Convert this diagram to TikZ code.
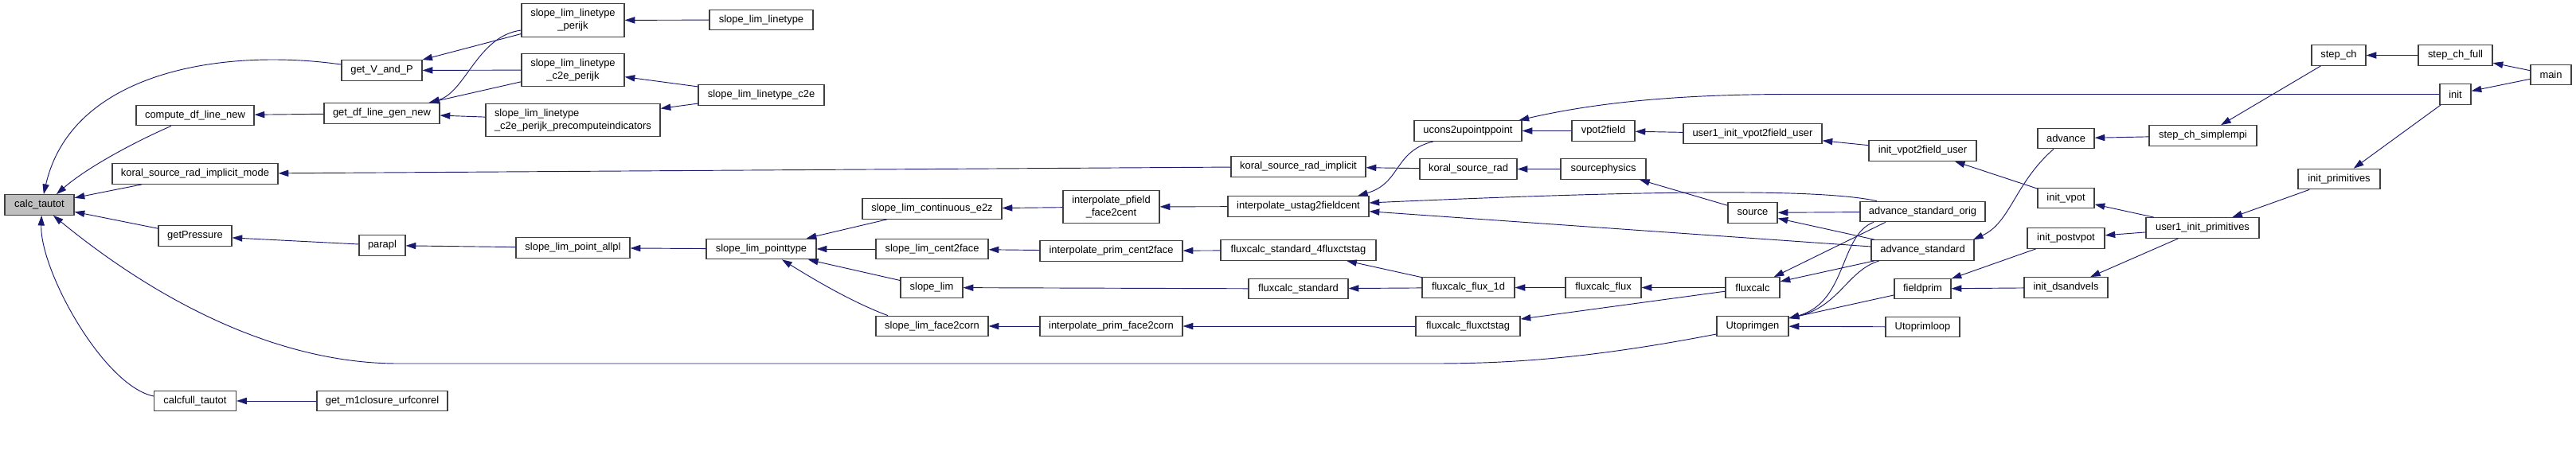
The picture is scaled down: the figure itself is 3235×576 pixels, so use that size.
\documentclass[tikz,border=0pt]{standalone}
\usepackage{fontspec}
\setmainfont{Liberation Sans}
\usetikzlibrary{arrows.meta}
\definecolor{edgec}{HTML}{191970}
\definecolor{nodeb}{HTML}{404040}
\definecolor{rootf}{HTML}{BFBFBF}
\begin{document}
\begin{tikzpicture}[x=0.75pt,y=-0.75pt,
  fn/.style={draw=nodeb, line width=0.9pt, fill=white, inner sep=0pt,
    minimum height=25.5*0.75pt, font=\fontsize{9.7}{11.8}\selectfont, align=center},
  sz/.style={minimum width=#1*0.75pt},
  tall/.style={minimum height=41.5*0.75pt},
  e/.style={draw=edgec, line width=0.7pt, -{Triangle[length=9.5pt,width=6.2pt]}}]
\useasboundingbox (0,0) rectangle (3235,576);
% nodes
\node[fn,sz=87,fill=rootf] (calc) at (49.5,257.5) {calc\_tautot};
\node[fn,sz=148] (cdln) at (245,145) {compute\_df\_line\_new};
\node[fn,sz=208] (kmode) at (245,218.5) {koral\_source\_rad\_implicit\_mode};
\node[fn,sz=92] (getP) at (245,296.5) {getPressure};
\node[fn,sz=103] (cft) at (245,504) {calcfull\_tautot};
\node[fn,sz=101] (gvp) at (479.5,88.5) {get\_V\_and\_P};
\node[fn,sz=145] (gdf) at (479.5,142.5) {get\_df\_line\_gen\_new};
\node[fn,sz=58] (parapl) at (480,308.5) {parapl};
\node[fn,sz=164] (m1) at (480,504) {get\_m1closure\_urfconrel};
\node[fn,sz=129,tall] (perijk) at (719.5,25.5) {slope\_lim\_linetype\\\_perijk};
\node[fn,sz=129,tall] (c2ep) at (719.5,88) {slope\_lim\_linetype\\\_c2e\_perijk};
\node[fn,sz=219,tall,align=left] (pre) at (719.5,151) {slope\_lim\_linetype\\\_c2e\_perijk\_precomputeindicators};
\node[fn,sz=143] (allpl) at (719.5,311.5) {slope\_lim\_point\_allpl};
\node[fn,sz=130] (slt) at (956,25) {slope\_lim\_linetype};
\node[fn,sz=158] (c2e) at (956,119.5) {slope\_lim\_linetype\_c2e};
\node[fn,sz=138] (pt) at (956,313) {slope\_lim\_pointtype};
\node[fn,sz=175] (e2z) at (1170.5,262.5) {slope\_lim\_continuous\_e2z};
\node[fn,sz=141] (c2f) at (1170.5,313) {slope\_lim\_cent2face};
\node[fn,sz=78] (sl) at (1170,361.5) {slope\_lim};
\node[fn,sz=141] (f2c) at (1170.5,410) {slope\_lim\_face2corn};
\node[fn,sz=121,tall] (ipf) at (1395.5,260) {interpolate\_pfield\\\_face2cent};
\node[fn,sz=179] (ipc) at (1395.5,315.5) {interpolate\_prim\_cent2face};
\node[fn,sz=179] (ipfc) at (1395.5,410) {interpolate\_prim\_face2corn};
\node[fn,sz=169] (ksri) at (1630.5,209.5) {koral\_source\_rad\_implicit};
\node[fn,sz=177] (ustag) at (1630.5,259.5) {interpolate\_ustag2fieldcent};
\node[fn,sz=195] (fs4) at (1630.5,314.5) {fluxcalc\_standard\_4fluxctstag};
\node[fn,sz=125] (fs) at (1630.5,363) {fluxcalc\_standard};
\node[fn,sz=135] (ucons) at (1843.5,164.5) {ucons2upointppoint};
\node[fn,sz=122] (ksr) at (1844,212.5) {koral\_source\_rad};
\node[fn,sz=116] (f1d) at (1844,361.5) {fluxcalc\_flux\_1d};
\node[fn,sz=131] (fct) at (1843.5,410) {fluxcalc\_fluxctstag};
\node[fn,sz=79] (vpot2) at (2013.5,164.5) {vpot2field};
\node[fn,sz=107] (sphys) at (2013.5,212.5) {sourcephysics};
\node[fn,sz=95] (ffl) at (2013.5,361.5) {fluxcalc\_flux};
\node[fn,sz=174] (u1v) at (2201,168) {user1\_init\_vpot2field\_user};
\node[fn,sz=62] (src) at (2201,267.5) {source};
\node[fn,sz=68] (fc) at (2201,361.5) {fluxcalc};
\node[fn,sz=90] (utg) at (2201,410) {Utoprimgen};
\node[fn,sz=135] (ivu) at (2414.5,189.5) {init\_vpot2field\_user};
\node[fn,sz=157] (aso) at (2414.5,266) {advance\_standard\_orig};
\node[fn,sz=129] (as) at (2414.5,314.5) {advance\_standard};
\node[fn,sz=71] (fp) at (2414.5,363) {fieldprim};
\node[fn,sz=93] (utl) at (2414.5,411) {Utoprimloop};
\node[fn,sz=71] (adv) at (2594.5,174) {advance};
\node[fn,sz=71] (iv) at (2594.5,249) {init\_vpot};
\node[fn,sz=97] (ipv) at (2594.5,299.5) {init\_postvpot};
\node[fn,sz=105] (ids) at (2594.5,361.5) {init\_dsandvels};
\node[fn,sz=135] (scs) at (2766.5,170.5) {step\_ch\_simplempi};
\node[fn,sz=142] (u1p) at (2766,286.5) {user1\_init\_primitives};
\node[fn,sz=68] (sc) at (2937,69.5) {step\_ch};
\node[fn,sz=103] (ip) at (2937.5,225) {init\_primitives};
\node[fn,sz=93] (scf) at (3083.5,69.5) {step\_ch\_full};
\node[fn,sz=39] (init) at (3083.5,118.5) {init};
\node[fn,sz=51] (main) at (3203.5,94) {main};
% edges (caller -> callee)
\draw[e] ([yshift=5.6pt]gvp.west) .. controls (280,60) and (90,90) .. ([xshift=4pt]calc.north);
\draw[e] ([xshift=-22.5pt]cdln.south) .. controls (170,178) and (110,210) .. ([xshift=16pt]calc.north);
\draw[e] (kmode) -- (calc);
\draw[e] (getP) -- (calc);
\draw[e] ([yshift=-7.5pt]utg.west) .. controls (2000,450) and (1900,457) .. (1800,457) -- (500,457) .. controls (350,457) and (200,380) .. ([xshift=13pt]calc.south);
\draw[e] ([yshift=4.5pt]cft.west) .. controls (130,485) and (50,340) .. ([xshift=2pt]calc.south);
\draw[e] (gdf) -- (cdln);
\draw[e] (ksri) -- (kmode);
\draw[e] (parapl) -- (getP);
\draw[e] (m1) -- (cft);
\draw[e] (perijk) -- (gvp);
\draw[e] (c2ep) -- (gvp);
\draw[e] ([yshift=-9.4pt]perijk.west) .. controls (600,45) and (585,115) .. ([xshift=45pt]gdf.north);
\draw[e] (c2ep) -- (gdf);
\draw[e] (pre) -- (gdf);
\draw[e] (slt) -- (perijk);
\draw[e] (c2e) -- (c2ep);
\draw[e] (c2e) -- (pre);
\draw[e] (allpl) -- (parapl);
\draw[e] (pt) -- (allpl);
\draw[e] (e2z) -- (pt);
\draw[e] (c2f) -- (pt);
\draw[e] (sl) -- (pt);
\draw[e] ([xshift=-41.6pt]f2c.north) .. controls (1070,380) and (1020,350) .. ([xshift=19.5pt]pt.south);
\draw[e] (ipf) -- (e2z);
\draw[e] (ipc) -- (c2f);
\draw[e] (fs) -- (sl);
\draw[e] (ipfc) -- (f2c);
\draw[e] (ustag) -- (ipf);
\draw[e] (fs4) -- (ipc);
\draw[e] (fct) -- (ipfc);
\draw[e] (ksr) -- (ksri);
\draw[e] ([xshift=-32.6pt]ucons.south) .. controls (1750,190) and (1760,230) .. ([xshift=55.9pt]ustag.north);
\draw[e] ([xshift=-43.1pt]aso.north) .. controls (2290,238) and (2100,238) .. ([yshift=3.4pt]ustag.east);
\draw[e] (as) -- (ustag);
\draw[e] (f1d) -- (fs4);
\draw[e] (f1d) -- (fs);
\draw[e] (fc) -- (fct);
\draw[e] (init.west) -- (2250,118.5) .. controls (2100,118.5) and (2000,130) .. ([xshift=48pt]ucons.north);
\draw[e] (vpot2) -- (ucons);
\draw[e] (sphys) -- (ksr);
\draw[e] (ffl) -- (f1d);
\draw[e] (u1v) -- (vpot2);
\draw[e] (src) -- (sphys);
\draw[e] (fc) -- (ffl);
\draw[e] (fp) -- (utg);
\draw[e] (utl) -- (utg);
\draw[e] ([xshift=-46.1pt]aso.south) .. controls (2310,295) and (2320,380) .. ([yshift=7.5pt]utg.east);
\draw[e] ([xshift=-40.9pt]as.south) .. controls (2320,340) and (2310,385) .. ([yshift=7.5pt]utg.east);
\draw[e] ([xshift=-35pt]aso.south) -- ([xshift=20pt]fc.north);
\draw[e] (as) -- (fc);
\draw[e] (aso) -- (src);
\draw[e] (as) -- (src);
\draw[e] (ivu) -- (u1v);
\draw[e] (iv) -- (ivu);
\draw[e] ([xshift=-11.6pt]adv.south) .. controls (2530,230) and (2525,280) .. ([xshift=47.6pt]as.north);
\draw[e] (ipv) -- (fp);
\draw[e] (ids) -- (fp);
\draw[e] (scs) -- (adv);
\draw[e] (u1p) -- (iv);
\draw[e] (u1p) -- (ipv);
\draw[e] (u1p) -- (ids);
\draw[e] (sc) -- (scs);
\draw[e] (ip) -- (u1p);
\draw[e] (scf) -- (sc);
\draw[e] (init) -- (ip);
\draw[e] (main) -- (scf);
\draw[e] (main) -- (init);
\end{tikzpicture}
\end{document}
